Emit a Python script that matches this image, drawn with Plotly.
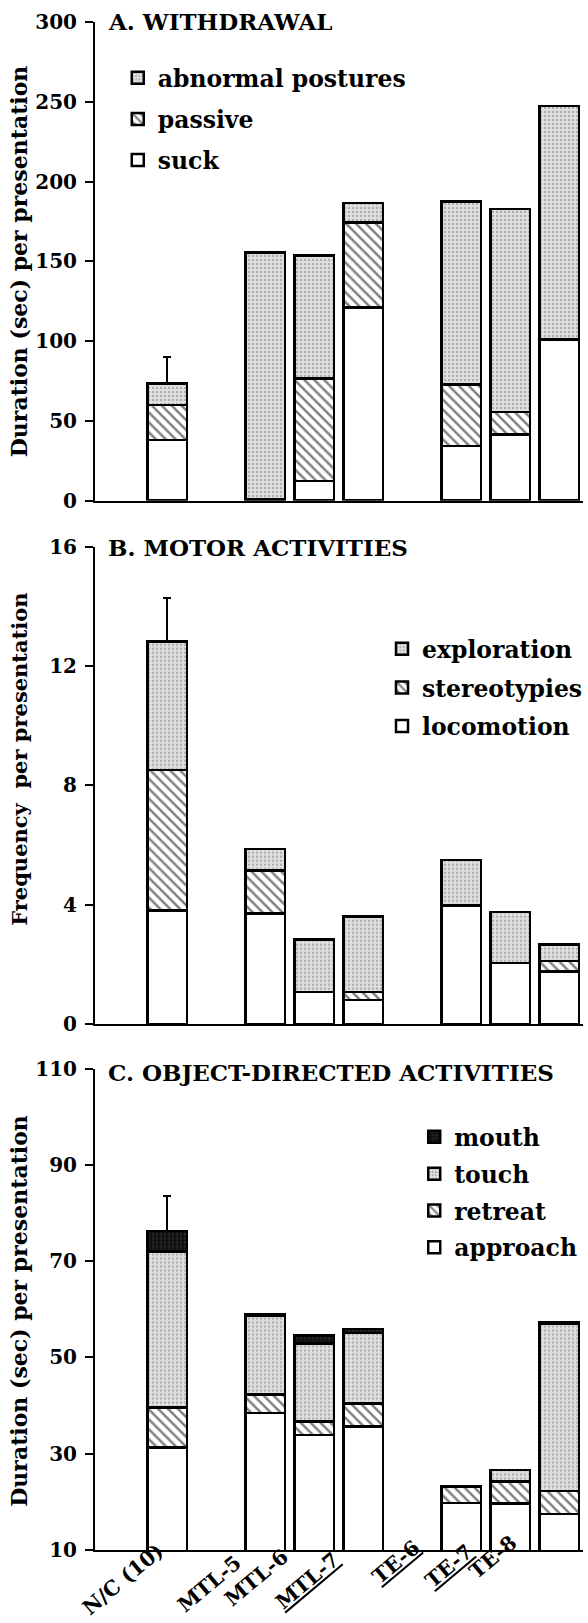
import plotly.graph_objects as go

# ---------------- data ----------------
groups = ["N/C (10)", "MTL-5", "MTL-6", "MTL-7", "TE-6", "TE-7", "TE-8"]
underlined = [False, False, False, True, True, True, False]
slots = ["N/C (10)", "gap1", "MTL-5", "MTL-6", "MTL-7", "gap2", "TE-6", "TE-7", "TE-8"]

# A. Withdrawal (sec per presentation)
suck = [38, 1, 12.3, 121, 34.2, 41.5, 101]
passive = [22, 0, 64.2, 53.5, 38.7, 14.1, 0]
abnormal = [13.4, 154.6, 77.1, 12.1, 114.6, 127.1, 146.4]
a_err = [16.6, None, None, None, None, None, None]

# B. Motor activities (frequency per presentation)
locomotion = [3.80, 3.71, 1.08, 0.81, 3.97, 2.04, 1.76]
stereotypies = [4.72, 1.43, 0, 0.27, 0, 0, 0.35]
exploration = [4.31, 0.72, 1.76, 2.52, 1.53, 1.71, 0.56]
b_err = [1.46, None, None, None, None, None, None]

# C. Object-directed activities (sec per presentation)
approach = [31.3, 38.5, 33.9, 35.6, 19.8, 19.7, 17.5]
retreat = [8.3, 3.8, 2.8, 4.8, 3.4, 4.5, 4.8]
touch = [32.4, 16.3, 16.2, 14.7, 0, 2.4, 34.7]
mouth = [4.3, 0.4, 1.7, 0.8, 0, 0, 0.4]
c_err = [7.2, None, None, None, None, None, None]

titles = ["A. WITHDRAWAL", "B. MOTOR ACTIVITIES", "C. OBJECT-DIRECTED ACTIVITIES"]
ytitles = ["Duration (sec) per presentation", "Frequency  per presentation",
           "Duration (sec) per presentation"]
a_ticks = [0, 50, 100, 150, 200, 250, 300]
b_ticks = [0, 4, 8, 12, 16]
c_ticks = [10, 30, 50, 70, 90, 110]

# ---------------- styles / layout ----------------
FONT = "DejaVu Serif"
W, H = 588, 1623
ML, MR, MT, MB = 95, 0, 22, 73
PW = W - ML - MR
PH = H - MT - MB

def px_x(x):
    return (x - ML) / PW

def px_y(y):
    return (H - MB - y) / PH

LINE = dict(color="black", width=2.5)
styles = {
    "white": dict(color="white", line=LINE),
    "hatch": dict(color="white", line=LINE,
                  pattern=dict(shape="\\", fgcolor="black", bgcolor="white",
                               size=7, solidity=0.35)),
    "stipple": dict(color="#dcdcdc", line=LINE,
                    pattern=dict(shape=".", fgcolor="#7c7c7c", bgcolor="#e0e0e0",
                                 size=4, solidity=0.3)),
    "dark": dict(color="#111111", line=LINE,
                 pattern=dict(shape=".", fgcolor="#555555", bgcolor="#111111",
                              size=4, solidity=0.2)),
}

fig = go.Figure()

def add(name, vals, style, xa, ya, leg, rank, err=None):
    kw = {}
    if err is not None:
        kw["error_y"] = dict(type="data", symmetric=False, array=err,
                             arrayminus=[0] * len(err), color="black",
                             thickness=2, width=4)
    fig.add_trace(go.Bar(
        x=groups, y=vals, name=name, marker=styles[style],
        xaxis=xa, yaxis=ya, legend=leg, legendgroup=name, legendrank=rank, **kw))

add("suck", suck, "white", "x", "y", "legend", 3)
add("passive", passive, "hatch", "x", "y", "legend", 2)
add("abnormal postures", abnormal, "stipple", "x", "y", "legend", 1, a_err)

add("locomotion", locomotion, "white", "x2", "y2", "legend2", 3)
add("stereotypies", stereotypies, "hatch", "x2", "y2", "legend2", 2)
add("exploration", exploration, "stipple", "x2", "y2", "legend2", 1, b_err)

add("approach", approach, "white", "x3", "y3", "legend3", 4)
add("retreat", retreat, "hatch", "x3", "y3", "legend3", 3)
add("touch", touch, "stipple", "x3", "y3", "legend3", 2)
add("mouth", mouth, "dark", "x3", "y3", "legend3", 1, c_err)

tickfont = dict(family=FONT, size=20, color="black", weight="bold")
xcommon = dict(type="category", categoryorder="array", categoryarray=slots,
               range=[-1.475, 8.485], showline=True, linewidth=2, linecolor="black",
               ticks="", showgrid=False, zeroline=False, domain=[0, 1],
               showticklabels=False)
ycommon = dict(showline=True, linewidth=2, linecolor="black", ticks="outside",
               ticklen=8, tickwidth=1.5, tickcolor="black", showgrid=False,
               zeroline=False, tickfont=tickfont, ticklabelstandoff=4)

fig.update_layout(
    width=W, height=H, autosize=False,
    margin=dict(l=ML, r=MR, t=MT, b=MB),
    paper_bgcolor="white", plot_bgcolor="white",
    barmode="stack", bargap=0.2,
    font=dict(family=FONT, color="black"),
    xaxis=dict(xcommon, anchor="y"),
    xaxis2=dict(xcommon, anchor="y2"),
    xaxis3=dict(xcommon, anchor="y3"),
    yaxis=dict(ycommon, anchor="x", domain=[px_y(500.7), 1.0], range=[0, 300],
               tickvals=a_ticks),
    yaxis2=dict(ycommon, anchor="x2", domain=[px_y(1024), px_y(546.7)], range=[0, 16],
                tickvals=b_ticks),
    yaxis3=dict(ycommon, anchor="x3", domain=[0, px_y(1068.5)], range=[10, 110],
                tickvals=c_ticks),
    showlegend=True,
)

legfont = dict(family=FONT, size=23.5, color="black", weight="bold")
legcommon = dict(xanchor="left", yanchor="top", font=legfont,
                 traceorder="grouped", bgcolor="rgba(0,0,0,0)")
fig.update_layout(
    legend=dict(legcommon, x=px_x(118), y=px_y(56), tracegroupgap=7.6),
    legend2=dict(legcommon, x=px_x(385), y=px_y(627), tracegroupgap=5.1),
    legend3=dict(legcommon, x=px_x(417.5), y=px_y(1115), tracegroupgap=3.3),
)

# panel titles
title_y = [21, 547, 1072.7]
for t, ty in zip(titles, title_y):
    fig.add_annotation(text=t, xref="paper", yref="paper", x=px_x(106), y=px_y(ty),
                       xanchor="left", yanchor="middle", showarrow=False,
                       font=dict(family=FONT, size=23, color="black", weight="bold"))

# y-axis titles
ytitle_y = [261.5, 759, 1311]
ytitle_size = [22, 21, 22]
for t, ty, fs in zip(ytitles, ytitle_y, ytitle_size):
    fig.add_annotation(text=t, xref="paper", yref="paper", x=px_x(18), y=px_y(ty),
                       xanchor="center", yanchor="middle", textangle=-90, showarrow=False,
                       font=dict(family=FONT, size=fs, color="black", weight="bold"))

# rotated category labels under the bottom panel (centre of each rotated label)
label_shift = [-44, -56, -58, -56, -65, -61, -66]
label_mid = [1579, 1584, 1578, 1581, 1562, 1566, 1557]
for g, u, sh, ym in zip(groups, underlined, label_shift, label_mid):
    fig.add_annotation(text=f"<u>{g}</u>" if u else g, xref="x3", yref="paper",
                       x=g, y=px_y(ym), xshift=sh, xanchor="center", yanchor="middle",
                       textangle=-40, showarrow=False,
                       font=dict(family=FONT, size=20.5, color="black", weight="bold"))

fig.write_html("out.html", config={"displayModeBar": False},
               post_script="document.body.style.margin='0px';")
